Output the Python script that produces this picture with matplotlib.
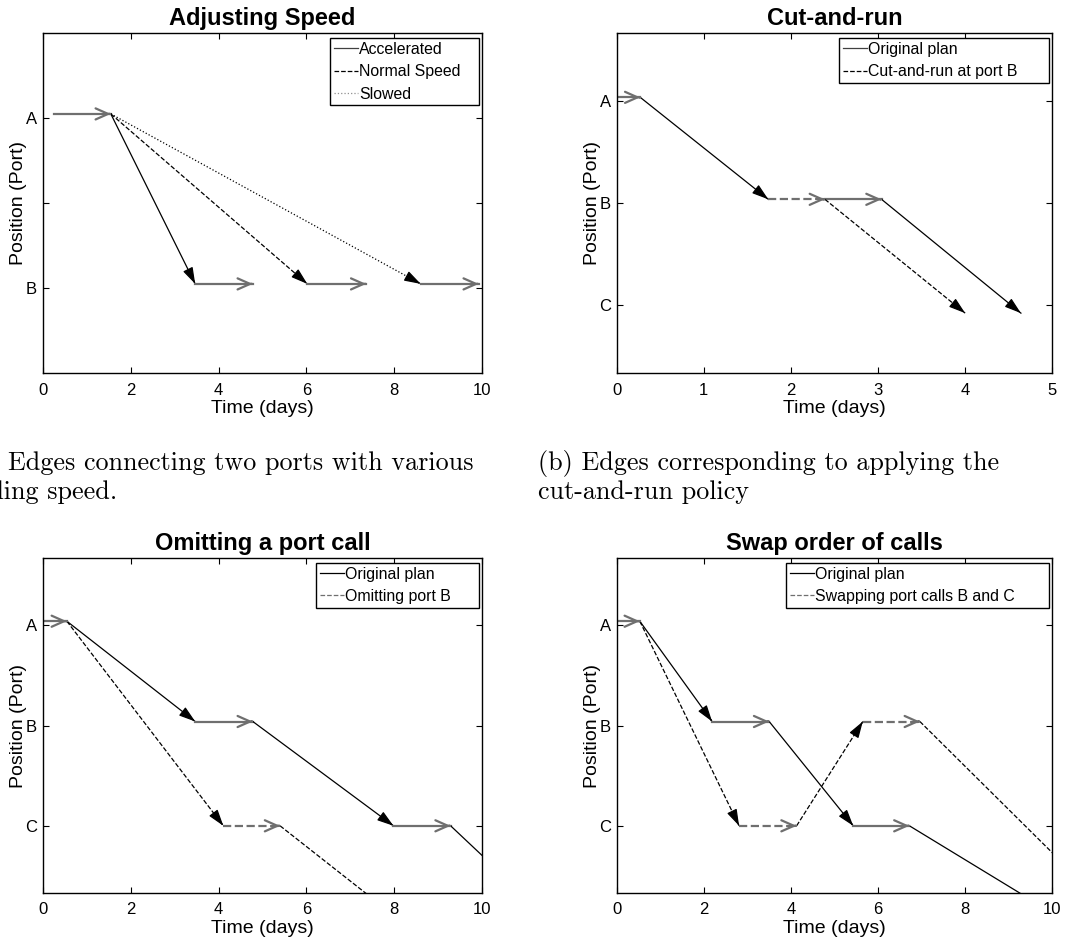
import matplotlib
matplotlib.use('Agg')
import matplotlib.pyplot as plt
from matplotlib.lines import Line2D

plt.rcParams['font.family'] = ['Liberation Sans', 'DejaVu Sans']

GRAY = '#6f6f6f'

# legs of each voyage: (start day, end day, from port, to port)
speed_accel = [(0.25, 1.55, 'A', 'A'), (1.55, 3.47, 'A', 'B'), (3.47, 4.78, 'B', 'B')]
speed_normal = [(1.55, 6.02, 'A', 'B'), (6.02, 7.36, 'B', 'B')]
speed_slow = [(1.55, 8.60, 'A', 'B'), (8.60, 9.92, 'B', 'B')]

cut_orig = [(0.0, 0.27, 'A', 'A'), (0.27, 1.74, 'A', 'B'), (2.39, 3.04, 'B', 'B'),
            (3.04, 4.64, 'B', 'C')]
cut_run = [(1.74, 2.39, 'B', 'B'), (2.39, 4.00, 'B', 'C')]

omit_orig = [(0.0, 0.55, 'A', 'A'), (0.55, 3.47, 'A', 'B'), (3.47, 4.78, 'B', 'B'),
             (4.78, 7.98, 'B', 'C'), (7.98, 9.28, 'C', 'C'), (9.28, 11.7, 'C', 'D')]
omit_skip = [(0.55, 4.11, 'A', 'C'), (4.11, 5.40, 'C', 'C'), (5.40, 8.3, 'C', 'D')]

swap_orig = [(0.0, 0.53, 'A', 'A'), (0.53, 2.19, 'A', 'B'), (2.19, 3.50, 'B', 'B'),
             (3.50, 5.43, 'B', 'C'), (5.43, 6.72, 'C', 'C'), (6.72, 10.5, 'C', 'D')]
swap_alt = [(0.53, 2.81, 'A', 'C'), (2.81, 4.13, 'C', 'C'), (4.13, 5.65, 'C', 'B'),
            (5.65, 6.96, 'B', 'B'), (6.96, 11.7, 'B', 'D')]

ports_two = {'A': 1.0, 'B': 0.0}
ports_three = {'A': 2.0, 'B': 1.0, 'C': 0.0, 'D': -1.0}

titles = ['Adjusting Speed', 'Cut-and-run', 'Omitting a port call', 'Swap order of calls']
captions = ['(a) Edges connecting two ports with various\nsailing speed.',
            '(b) Edges corresponding to applying the\ncut-and-run policy']


def drawLegs(ax, legs, levels, lift, ls, waitLs=None):
  if waitLs is None:
    waitLs = ls
  for t0, t1, p0, p1 in legs:
    y0 = levels[p0] + lift.get(p0, 0)
    y1 = levels[p1] + lift.get(p1, 0)
    wait = p0 == p1
    if wait:
      color, lw = GRAY, 1.6
      style = '->,head_length=0.9,head_width=0.4'
    else:
      color, lw = 'black', 0.9
      style = '-|>,head_length=1.0,head_width=0.32'
    ax.plot([t0, t1], [y0, y1], color=color, lw=lw, ls=waitLs if wait else ls)
    ax.annotate('', xy=(t1, y1), xytext=(t1 - 0.02 * (t1 - t0), y1 - 0.02 * (y1 - y0)),
                arrowprops=dict(arrowstyle=style, color=color, lw=lw,
                                shrinkA=0, shrinkB=0, mutation_scale=10))


def styleAxes(ax, title, xmax, xstep, ylim):
  ax.set_xlim(0, xmax)
  ax.set_xticks(range(0, xmax + 1, xstep))
  ax.set_ylim(*ylim)
  ax.set_title(title, fontsize=17, fontweight='bold', pad=6)
  ax.set_xlabel('Time (days)', fontsize=14, labelpad=2)
  ax.set_ylabel('Position (Port)', fontsize=14, labelpad=-1)
  ax.tick_params(direction='in', top=True, right=True, length=4, labelsize=12)
  ax.tick_params(axis='x', pad=7)
  ax.tick_params(axis='y', pad=4)
  for s in ax.spines.values():
    s.set_linewidth(1.0)


def addLegend(ax, handles, labels, x0, top):
  leg = ax.legend(handles, labels, loc='upper right', mode='expand',
                  bbox_to_anchor=(x0, 0.0, 0.992 - x0, top),
                  fontsize=11.4, fancybox=False, framealpha=1, edgecolor='black',
                  handlelength=1.5, handletextpad=0.1, labelspacing=0.46,
                  borderpad=0.25, borderaxespad=0.0)
  leg.get_frame().set_linewidth(1.0)


fig = plt.figure(figsize=(10.67, 9.51), dpi=100)
ax1 = fig.add_axes([0.040, 0.6078, 0.412, 0.3575])
ax2 = fig.add_axes([0.578, 0.6078, 0.4082, 0.3575])
ax3 = fig.add_axes([0.040, 0.0613, 0.412, 0.3516])
ax4 = fig.add_axes([0.578, 0.0613, 0.4082, 0.3516])

# (a) speeds
lift1 = {'A': 0.024, 'B': 0.024}
drawLegs(ax1, speed_accel, ports_two, lift1, '-')
drawLegs(ax1, speed_normal, ports_two, lift1, '--', '-')
drawLegs(ax1, speed_slow, ports_two, lift1, ':', '-')
styleAxes(ax1, titles[0], 10, 2, (-0.5, 1.5))
ax1.set_yticks([0, 0.5, 1])
ax1.set_yticklabels(['B', '', 'A'])
addLegend(ax1, [Line2D([], [], color='#404040', lw=0.9, ls='-'),
                Line2D([], [], color='black', lw=0.9, ls='--'),
                Line2D([], [], color='#909090', lw=0.9, ls=':')],
          ['Accelerated', 'Normal Speed', 'Slowed'], 0.6533, 0.9853)

# (b) cut-and-run
lift2 = {'A': 0.036, 'B': 0.036, 'C': -0.08}
drawLegs(ax2, cut_orig, ports_three, lift2, '-')
drawLegs(ax2, cut_run, ports_three, lift2, '--')
styleAxes(ax2, titles[1], 5, 1, (-0.667, 2.667))
addLegend(ax2, [Line2D([], [], color='#404040', lw=0.9, ls='-'),
                Line2D([], [], color='black', lw=0.9, ls='--')],
          ['Original plan', 'Cut-and-run at port B'], 0.5103, 0.9853)

# omitting a call
lift3 = {'A': 0.04, 'B': 0.04, 'C': 0.0}
drawLegs(ax3, omit_orig, ports_three, lift3, '-')
drawLegs(ax3, omit_skip, ports_three, lift3, '--')
styleAxes(ax3, titles[2], 10, 2, (-0.667, 2.667))
addLegend(ax3, [Line2D([], [], color='black', lw=0.9, ls='-'),
                Line2D([], [], color=GRAY, lw=0.9, ls='--')],
          ['Original plan', 'Omitting port B'], 0.6217, 0.9868)

# swapping calls
drawLegs(ax4, swap_orig, ports_three, lift3, '-')
drawLegs(ax4, swap_alt, ports_three, lift3, '--')
styleAxes(ax4, titles[3], 10, 2, (-0.667, 2.667))
addLegend(ax4, [Line2D([], [], color='black', lw=0.9, ls='-'),
                Line2D([], [], color=GRAY, lw=0.9, ls='--')],
          ['Original plan', 'Swapping port calls B and C'], 0.3887, 0.9868)

for ax in (ax2, ax3, ax4):
  ax.set_yticks([0, 1, 2])
  ax.set_yticklabels(['C', 'B', 'A'])

fig.text(-34 / 1067, 0.4984, captions[0], fontsize=18.8, family='cmr10',
         ha='left', va='center', linespacing=1.2)
fig.text(538 / 1067, 0.4984, captions[1], fontsize=18.8, family='cmr10',
         ha='left', va='center', linespacing=1.2)

fig.savefig('out.png', dpi=100)
